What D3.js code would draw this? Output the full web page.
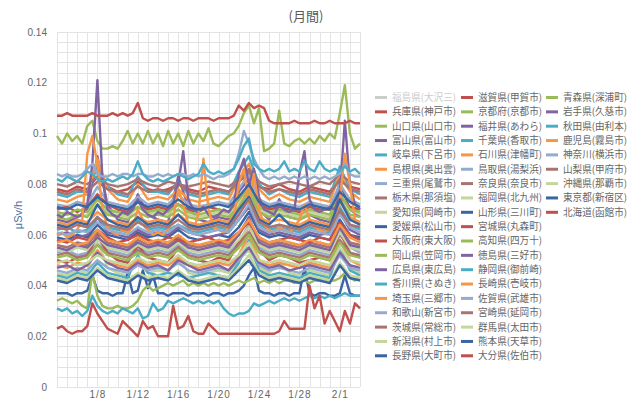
<!DOCTYPE html>
<html>
<head>
<meta charset="utf-8">
<script src="https://cdn.jsdelivr.net/npm/d3@7"></script>
<style>
  body { margin: 0; background: #fff; }
  text { font-family: "Noto Sans CJK JP", "Noto Sans", sans-serif; }
</style>
</head>
<body>
<svg id="chart" width="640" height="399"></svg>
<script>
// readings in units of 0.001 μSv/h (nSv/h)
// half-day series: 61 points from 1/4 00:00 to 2/3 00:00, daily series: 31 points

const seriesNames = [
  "福島県(大沢三)", "兵庫県(神戸市)", "山口県(山口市)", "富山県(富山市)", "岐阜県(下呂市)",
  "島根県(奥出雲)", "三重県(尾鷲市)", "栃木県(那須塩)", "愛知県(岡崎市)", "愛媛県(松山市)",
  "大阪府(東大阪)", "岡山県(笠岡市)", "広島県(東広島)", "香川県(さぬき)", "埼玉県(三郷市)",
  "和歌山(新宮市)", "茨城県(常総市)", "新潟県(村上市)", "長野県(大町市)",
  "滋賀県(甲賀市)", "京都府(京都市)", "福井県(あわら)", "千葉県(香取市)", "石川県(津幡町)",
  "鳥取県(湯梨浜)", "奈良県(奈良市)", "福岡県(北九州)", "山形県(三川町)", "宮城県(丸森町)",
  "高知県(四万十)", "徳島県(三好市)", "静岡県(御前崎)", "長崎県(壱岐市)", "佐賀県(武雄市)",
  "宮崎県(延岡市)", "群馬県(太田市)", "熊本県(天草市)", "大分県(佐伯市)",
  "青森県(深浦町)", "岩手県(久慈市)", "秋田県(由利本)", "鹿児島(霧島市)", "神奈川(横浜市)",
  "山梨県(甲府市)", "沖縄県(那覇市)", "東京都(新宿区)", "北海道(函館市)"
];

// 福島 is switched off in the legend, so it has no line
const fukushima = [];

// half-day readings
const miyagi = [107,107,108,107,107,107,107,108,107,107, 107,108,107,108,107,108,112,106,105,106,
  106,105,106,106,105,106,106,105,106,106, 106,105,106,106,106,107,111,109,112,110,
  111,110,105,104,104,104,104,105,104,104, 104,105,104,104,105,104,104,104,105,104,104];
const yamaguchi = [99,96,100,97,99,96,103,105,97,94, 94,95,94,97,101,96,100,96,101,96,
  100,95,101,96,100,95,101,96,100,97, 102,96,95,97,99,100,103,108,111,104,
  110,93,94,96,109,96,95,97,98,96, 98,96,99,97,100,98,108,119,100,94,96];
const fukui = [68,67,69,68,67,68,72,88,121,82, 70,68,67,69,68,70,74,70,68,67,
  69,68,70,72,80,93,74,70,69,71, 68,67,68,70,69,72,84,90,80,86,
  75,70,69,68,72,70,69,70,84,93, 74,70,69,70,71,70,76,105,80,72,70];
const ishikawa = [60,61,59,60,62,66,92,99,88,70, 63,61,60,62,61,63,70,66,62,60,
  61,60,62,66,78,72,64,62,68,90, 70,63,62,61,63,66,80,86,72,84,
  70,64,62,61,63,62,61,63,66,72, 66,63,62,61,63,62,74,92,80,66,64];
const tottori = [84,83,84,83,83,84,86,88,84,83, 83,84,83,84,84,83,84,84,83,83,
  84,83,84,83,84,84,83,84,83,84, 83,82,83,83,84,86,92,101,96,90,
  86,83,82,83,82,83,82,83,82,83, 82,83,82,83,82,83,84,88,84,83,83];
const akita = [82,81,83,82,81,83,85,84,82,81, 82,81,82,83,82,84,89,84,82,81,
  82,81,82,83,84,83,82,83,84,88, 85,84,85,84,85,86,90,95,98,88,
  86,85,86,85,86,89,85,86,85,89, 86,85,89,86,85,86,85,87,85,86,84];
const hokkaido = [23,24,22,21,22,22,24,33,29,26, 23,22,21,26,24,22,20,26,23,24,
  20,20,20,32,23,24,28,22,21,21, 25,23,21,21,21,21,21,21,21,21,
  21,21,21,21,22,26,23,23,23,23, 40,31,36,25,30,26,22,30,25,33,31];
const nagano = [37,37,37,36,37,37,38,44,38,37, 37,36,37,37,45,37,38,46,39,44,
  37,37,36,37,37,37,36,37,37,37, 36,37,37,36,37,37,38,40,44,47,
  38,37,37,36,37,37,36,37,37,47, 37,36,37,37,36,36,37,44,37,36,36];
const shizuoka = [31,30,31,29,30,28,30,36,32,30, 29,30,29,31,30,29,31,27,28,33,
  30,31,34,33,34,35,34,33,34,33, 34,33,34,31,29,28,29,29,30,33,
  32,33,34,33,34,35,34,35,34,35, 36,35,36,35,36,35,36,37,36,36,36];
const kochi = [34,35,34,33,34,32,31,45,36,32, 31,31,32,31,31,32,34,38,40,38,
  39,40,41,40,41,42,40,41,40,41, 40,41,40,41,40,41,42,41,42,43,
  41,42,41,42,41,42,42,41,42,42, 41,42,42,43,42,42,43,45,43,42,43];

// daily readings
const hyogo = [78,77,79,78,83,79,77,78,81,78,77,78,80,78,77,79,78,77,81,84,79,78,80,78,77,79,78,77,82,79,78];
const osaka = [70,71,69,71,76,72,70,69,73,70,71,70,72,70,69,71,70,69,74,79,72,70,71,70,69,71,70,70,75,71,70];
const shiga = [50,49,51,52,60,53,50,49,56,51,50,49,55,51,50,49,51,50,57,63,54,50,52,51,49,50,51,50,61,53,51];
const oita = [58,57,59,58,62,59,57,58,60,58,57,59,58,57,58,59,57,58,61,65,59,57,58,59,58,57,59,58,65,60,58];
const toyama = [66,65,67,70,91,72,66,65,76,68,66,65,83,71,66,65,67,66,77,82,70,66,74,67,66,68,66,65,81,70,67];
const hiroshima = [60,61,59,60,67,61,60,59,62,60,61,60,63,61,60,59,60,61,66,71,62,60,61,60,59,61,60,61,69,62,60];
const tokushima = [55,54,56,55,59,56,55,54,57,55,56,55,58,55,54,55,56,55,60,67,57,55,56,55,54,56,55,54,63,56,55];
const iwate = [47,48,46,48,53,49,47,46,49,47,48,46,50,48,46,47,48,46,51,55,49,47,48,46,47,48,47,46,53,48,47];
const gifu = [76,75,77,77,87,79,76,75,83,77,77,76,81,76,75,76,77,76,85,91,80,76,78,76,75,77,76,75,87,78,76];
const kagawa = [62,63,61,62,67,63,62,61,66,62,63,62,64,62,61,62,63,62,68,75,64,62,63,62,61,63,62,61,71,64,62];
const chiba = [44,43,45,44,49,45,44,43,52,45,44,45,44,43,44,45,44,43,49,58,46,44,45,44,43,45,44,43,55,46,44];
const shimane = [74,73,75,76,90,78,74,73,80,74,75,74,78,74,73,74,75,74,82,88,78,74,76,74,73,75,74,73,84,77,74];
const saitama = [65,64,66,65,69,66,65,64,67,65,66,65,68,65,64,65,66,65,71,78,67,65,66,65,64,66,65,64,73,67,65];
const nagasaki = [48,47,49,48,54,49,48,47,50,48,49,48,51,48,47,48,49,48,52,60,50,48,49,48,47,49,48,47,58,50,48];
const kagoshima = [57,58,56,57,62,58,57,56,59,57,58,57,60,57,56,57,58,57,61,66,59,57,58,57,56,58,57,56,64,59,57];
const mie = [72,71,73,72,79,73,72,71,75,72,73,72,76,72,71,72,73,72,78,84,74,72,73,72,71,73,72,71,80,74,72];
const wakayama = [53,54,52,53,57,54,53,52,55,53,54,53,56,53,52,53,54,53,57,64,55,53,54,53,52,54,53,52,60,55,53];
const saga = [46,45,47,46,50,47,46,45,48,46,47,46,49,46,45,46,47,46,50,55,48,46,47,46,45,47,46,45,52,47,46];
const kanagawa = [61,60,62,61,65,62,61,60,63,61,62,61,64,61,60,61,62,61,66,72,63,61,62,61,60,62,61,60,68,63,61];
const tochigi = [80,79,81,80,83,80,79,80,82,80,79,81,80,79,80,81,80,79,82,86,81,79,80,81,80,79,81,80,84,81,80];
const ibaraki = [77,76,78,77,81,78,77,76,79,77,78,77,80,77,76,77,78,77,81,85,79,77,78,77,76,78,77,76,82,78,77];
const nara = [56,55,57,56,61,57,56,55,58,56,57,56,59,56,55,56,57,56,60,66,58,56,57,56,55,57,56,55,63,57,56];
const miyazaki = [52,53,51,52,56,53,52,51,54,52,53,52,55,52,51,52,53,52,56,61,54,52,53,52,51,53,52,51,58,53,52];
const yamanashi = [63,62,64,63,67,64,63,62,65,63,64,63,66,63,62,63,64,63,68,74,65,63,64,63,62,64,63,62,70,64,63];
const aichi = [68,69,67,68,74,69,68,67,71,68,69,68,72,68,67,68,69,68,73,80,70,68,69,68,67,69,68,67,76,70,68];
const niigata = [45,44,46,45,58,47,45,44,50,45,46,45,52,45,44,45,46,45,50,54,47,45,49,45,44,46,45,44,55,47,45];
const fukuoka = [54,53,55,54,59,55,54,53,56,54,55,54,57,54,53,54,55,54,58,63,56,54,55,54,53,55,54,53,61,55,54];
const gunma = [43,42,44,43,47,44,43,42,45,43,44,43,46,43,42,43,44,43,47,52,45,43,44,43,42,44,43,42,49,44,43];
const okinawa = [49,50,48,49,52,50,49,48,51,49,50,49,52,49,48,49,50,49,52,57,50,49,50,49,48,50,49,48,55,50,49];
const ehime = [59,58,60,59,64,60,59,58,61,59,60,59,62,59,58,59,60,59,63,69,61,59,60,59,58,60,59,58,66,60,59];
const yamagata = [64,63,65,64,72,66,64,63,67,64,65,64,68,64,63,64,65,64,70,75,66,64,68,64,63,65,64,63,74,66,64];
const kumamoto = [42,41,43,42,46,43,42,41,44,42,43,42,45,42,41,42,43,42,46,50,44,42,43,42,41,43,42,41,48,43,42];
const tokyo = [71,70,72,71,75,72,71,70,73,71,72,71,74,71,70,71,72,71,75,80,73,71,72,71,70,72,71,70,77,73,71];
const okayama = [69,68,70,69,74,70,69,68,71,69,70,69,72,69,68,69,70,69,74,79,71,69,70,69,68,70,69,68,76,70,69];
const kyoto = [67,66,68,67,72,68,67,66,69,67,68,67,70,67,66,67,68,67,71,77,69,67,68,67,66,68,67,66,74,68,67];
const aomori = [51,52,50,51,56,52,51,50,53,51,52,51,54,51,50,51,52,51,55,60,53,51,52,51,50,52,51,50,57,52,51];

// same order as seriesNames
const seriesValues = [
  fukushima, hyogo, yamaguchi, toyama, gifu, shimane, mie, tochigi, aichi, ehime,
  osaka, okayama, hiroshima, kagawa, saitama, wakayama, ibaraki, niigata, nagano,
  shiga, kyoto, fukui, chiba, ishikawa, tottori, nara, fukuoka, yamagata, miyagi,
  kochi, tokushima, shizuoka, nagasaki, saga, miyazaki, gunma, kumamoto, oita,
  aomori, iwate, akita, kagoshima, kanagawa, yamanashi, okinawa, tokyo, hokkaido
];
const hiddenSeries = ["福島県(大沢三)"];

const yTicks = [0, 0.02, 0.04, 0.06, 0.08, 0.1, 0.12, 0.14];
const yTickLabels = ["0", "0.02", "0.04", "0.06", "0.08", "0.1", "0.12", "0.14"];
const xTickDays = ["2012-01-08", "2012-01-12", "2012-01-16", "2012-01-20", "2012-01-24", "2012-01-28", "2012-02-01"];
const xTickLabels = ["1/8", "1/12", "1/16", "1/20", "1/24", "1/28", "2/1"];

const palette = ["#c0504d", "#9bbb59", "#8064a2", "#4bacc6", "#f79646",
  "#94abd0", "#a87472", "#c3d69b", "#3a65a3"];

const svg = d3.select("#chart");
const parseDay = d3.timeParse("%Y-%m-%d");
const start = parseDay("2012-01-04"),
  end = parseDay("2012-02-03");

const x = d3.scaleTime().domain([start, end]).range([57, 360]);
const y = d3.scaleLinear().domain([0, 0.14]).range([387, 32]);

// grid: minor every 0.004, one line per day
const grid = svg.append("g").attr("class", "grid");
grid.selectAll("line.h")
  .data(d3.range(36).map(i => i * 0.004))
  .enter().append("line")
  .attr("class", "h")
  .attr("x1", x.range()[0]).attr("x2", x.range()[1])
  .attr("y1", d => Math.round(y(d)) + 0.5).attr("y2", d => Math.round(y(d)) + 0.5)
  .attr("stroke", "#e3e3e3");
grid.selectAll("line.v")
  .data(d3.timeDay.range(start, d3.timeDay.offset(end, 1)))
  .enter().append("line")
  .attr("class", "v")
  .attr("x1", d => Math.round(x(d)) + 0.5).attr("x2", d => Math.round(x(d)) + 0.5)
  .attr("y1", y.range()[1]).attr("y2", y.range()[0])
  .attr("stroke", "#e3e3e3");

// y axis
const yAxis = svg.append("g")
  .attr("transform", "translate(50,0)")
  .call(d3.axisLeft(y).tickValues(yTicks).tickSize(0)
    .tickFormat((d, i) => yTickLabels[i]));
yAxis.select(".domain").remove();
yAxis.selectAll("text")
  .attr("fill", "#666").attr("font-size", 10)
  .style("font-family", "'Liberation Sans', Arial, sans-serif");

// x axis
const xAxis = svg.append("g")
  .attr("transform", "translate(0,390)")
  .call(d3.axisBottom(x).tickValues(xTickDays.map(parseDay)).tickSize(0)
    .tickFormat((d, i) => xTickLabels[i]));
xAxis.select(".domain").remove();
xAxis.selectAll("text")
  .attr("fill", "#666").attr("font-size", 10).attr("dy", "0.45em")
  .style("font-family", "'Liberation Sans', Arial, sans-serif")
  .style("letter-spacing", "1px");

svg.append("text")
  .attr("x", 306).attr("y", 21)
  .attr("text-anchor", "middle")
  .attr("font-size", 13)
  .attr("fill", "#595959")
  .text("(月間)");

svg.append("text")
  .attr("transform", "translate(22,215) rotate(-90)")
  .attr("text-anchor", "middle")
  .attr("font-size", 11)
  .attr("fill", "#4a6f9f")
  .style("font-family", "'Liberation Sans', Arial, sans-serif")
  .text("μSv/h");

const colorOf = i => palette[(i - 1) % palette.length];

const series = seriesNames.map((name, i) => {
  const vals = seriesValues[i];
  const stepHours = vals.length > 1 ? 720 / (vals.length - 1) : 0;
  return {
    name: name,
    index: i,
    hidden: hiddenSeries.includes(name),
    points: vals.map((v, j) => ({ date: d3.timeHour.offset(start, j * stepHours), value: v / 1000 }))
  };
});

const line = d3.line()
  .x(d => x(d.date))
  .y(d => y(d.value));

svg.append("g")
  .attr("class", "lines")
  .selectAll("path")
  .data(series.filter(s => !s.hidden && s.points.length))
  .enter().append("path")
  .attr("d", d => line(d.points))
  .attr("fill", "none")
  .attr("stroke", d => colorOf(d.index))
  .attr("stroke-width", 2.4)
  .attr("stroke-linejoin", "round");

// legend, 19 rows per column
const legendX = [375, 461, 546];
const legend = svg.append("g").attr("class", "legend");
const item = legend.selectAll("g")
  .data(series)
  .enter().append("g")
  .attr("transform", d => "translate(" + legendX[Math.floor(d.index / 19)] + "," + (97.5 + (d.index % 19) * 14.35) + ")");
item.append("line")
  .attr("x1", 0).attr("x2", 12)
  .attr("stroke", d => d.hidden ? "#cccccc" : colorOf(d.index))
  .attr("stroke-width", 3);
item.append("text")
  .attr("x", 17)
  .attr("dy", "0.35em")
  .attr("font-size", 9.8)
  .attr("fill", d => d.hidden ? "#cccccc" : "#666")
  .text(d => d.name)
  .each(function () {
    // the original legend font is narrower; squeeze to the column width
    if (this.getComputedTextLength() > 64) {
      d3.select(this).attr("textLength", 64).attr("lengthAdjust", "spacingAndGlyphs");
    }
  });
</script>
</body>
</html>
